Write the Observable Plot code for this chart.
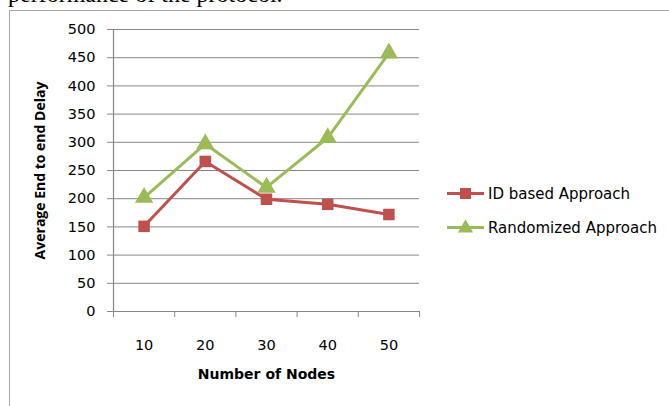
<!DOCTYPE html>
<html>
<head>
<meta charset="utf-8">
<script src="https://cdn.jsdelivr.net/npm/d3@7"></script>
<script src="https://cdn.jsdelivr.net/npm/@observablehq/plot@0.6"></script>
<style>
  html, body { margin: 0; padding: 0; background: #fff; overflow: hidden; }
  body { width: 669px; height: 406px; position: relative; }
  #lead {
    position: absolute; left: 8px; top: -21px; white-space: nowrap;
    font: 24px "Liberation Serif", "DejaVu Serif", serif; color: #000;
    line-height: 30px;
  }
  #frame {
    position: absolute; left: 9px; top: 10px; width: 700px; height: 500px;
    border: 1px solid #a6a6a6; box-sizing: border-box;
  }
  #chart { position: absolute; left: 0; top: 0; }
  #chart g[aria-label="y-axis tick label"],
  #chart g[aria-label="x-axis tick label"] { font-size: 14.5px; }
  #legend {
    position: absolute; left: 447px; top: 184px;
    font: 15px "DejaVu Sans", sans-serif; color: #000;
  }
  #legend .item { display: flex; align-items: center; height: 19px; margin-bottom: 15px; }
  #legend svg { margin-right: 4px; }
</style>
</head>
<body>
<div id="lead">performance of the protocol.</div>
<div id="frame"></div>
<div id="chart"></div>
<div id="legend"></div>
<script>
// Number of nodes in the network (x categories)
const nodes = [10, 20, 30, 40, 50];
// Average end-to-end delay for each approach
const idBased = [151, 266, 199, 190, 172];
const randomized = [202, 297, 220, 308, 458];
const seriesNames = ["ID based Approach", "Randomized Approach"];
const colors = ["#c0504d", "#9bbb59"];
const yTicks = [0, 50, 100, 150, 200, 250, 300, 350, 400, 450, 500];

const rows = [
  ...nodes.map((n, i) => ({nodes: n, delay: idBased[i], series: seriesNames[0]})),
  ...nodes.map((n, i) => ({nodes: n, delay: randomized[i], series: seriesNames[1]}))
];
const step = nodes[1] - nodes[0];
// category boundaries for the x tick marks
const bounds = [nodes[0] - step / 2, ...nodes.map(n => n + step / 2)];

const font = "DejaVu Sans, sans-serif";
const gray = "#878787";

const chart = Plot.plot({
  width: 669,
  height: 406,
  marginLeft: 113,
  marginRight: 250,
  marginTop: 29,
  marginBottom: 95,
  style: {fontFamily: font, fontSize: "14px", color: "#000", background: "transparent"},
  x: {domain: [bounds[0], bounds[bounds.length - 1]]},
  y: {domain: [0, 500]},
  color: {domain: seriesNames, range: colors},
  marks: [
    Plot.gridY(yTicks, {stroke: gray, strokeOpacity: 1, strokeWidth: 1}),
    Plot.ruleX([bounds[0]], {stroke: gray, strokeWidth: 1.2}),
    Plot.ruleY([0], {stroke: gray, strokeWidth: 1.2}),
    Plot.axisY({ticks: yTicks, tickSize: 6, tickPadding: 12, stroke: gray, label: null}),
    Plot.axisX({ticks: bounds, tickSize: 6, tickFormat: () => "", stroke: gray, label: null}),
    Plot.axisX({ticks: nodes, tickSize: 0, tickPadding: 28, label: null}),
    Plot.line(rows, {x: "nodes", y: "delay", z: "series", stroke: "series", strokeWidth: 3, strokeLinejoin: "miter"}),
    Plot.dot(rows.filter(d => d.series === seriesNames[0]), {x: "nodes", y: "delay", symbol: "square", r: 6.5, fill: colors[0]}),
    Plot.dot(rows.filter(d => d.series === seriesNames[1]), {x: "nodes", y: "delay", symbol: "triangle", r: 6.8, fill: colors[1]}),
    Plot.text(["Average End to end Delay"], {frameAnchor: "left", textAnchor: "middle", rotate: -90, dx: -73, fontWeight: "bold", fontSize: 14, fontFamily: "Open Sans, sans-serif"}),
    Plot.text(["Number of Nodes"], {frameAnchor: "bottom", dy: 67, fontWeight: "bold", fontSize: 14})
  ]
});
document.getElementById("chart").append(chart);

// Legend: line swatch with marker, then series name
const legend = d3.select("#legend");
seriesNames.forEach((name, i) => {
  const item = legend.append("div").attr("class", "item");
  const sw = item.append("svg").attr("width", 37).attr("height", 19);
  sw.append("line").attr("x1", 0).attr("x2", 37).attr("y1", 9.5).attr("y2", 9.5)
    .attr("stroke", colors[i]).attr("stroke-width", 3);
  if (i === 0) {
    sw.append("rect").attr("x", 13).attr("y", 4).attr("width", 11).attr("height", 11).attr("fill", colors[i]);
  } else {
    sw.append("path").attr("d", d3.symbol(d3.symbolTriangle, 100)()).attr("transform", "translate(18.5,10)").attr("fill", colors[i]);
  }
  item.append("span").text(name);
});
</script>
</body>
</html>
